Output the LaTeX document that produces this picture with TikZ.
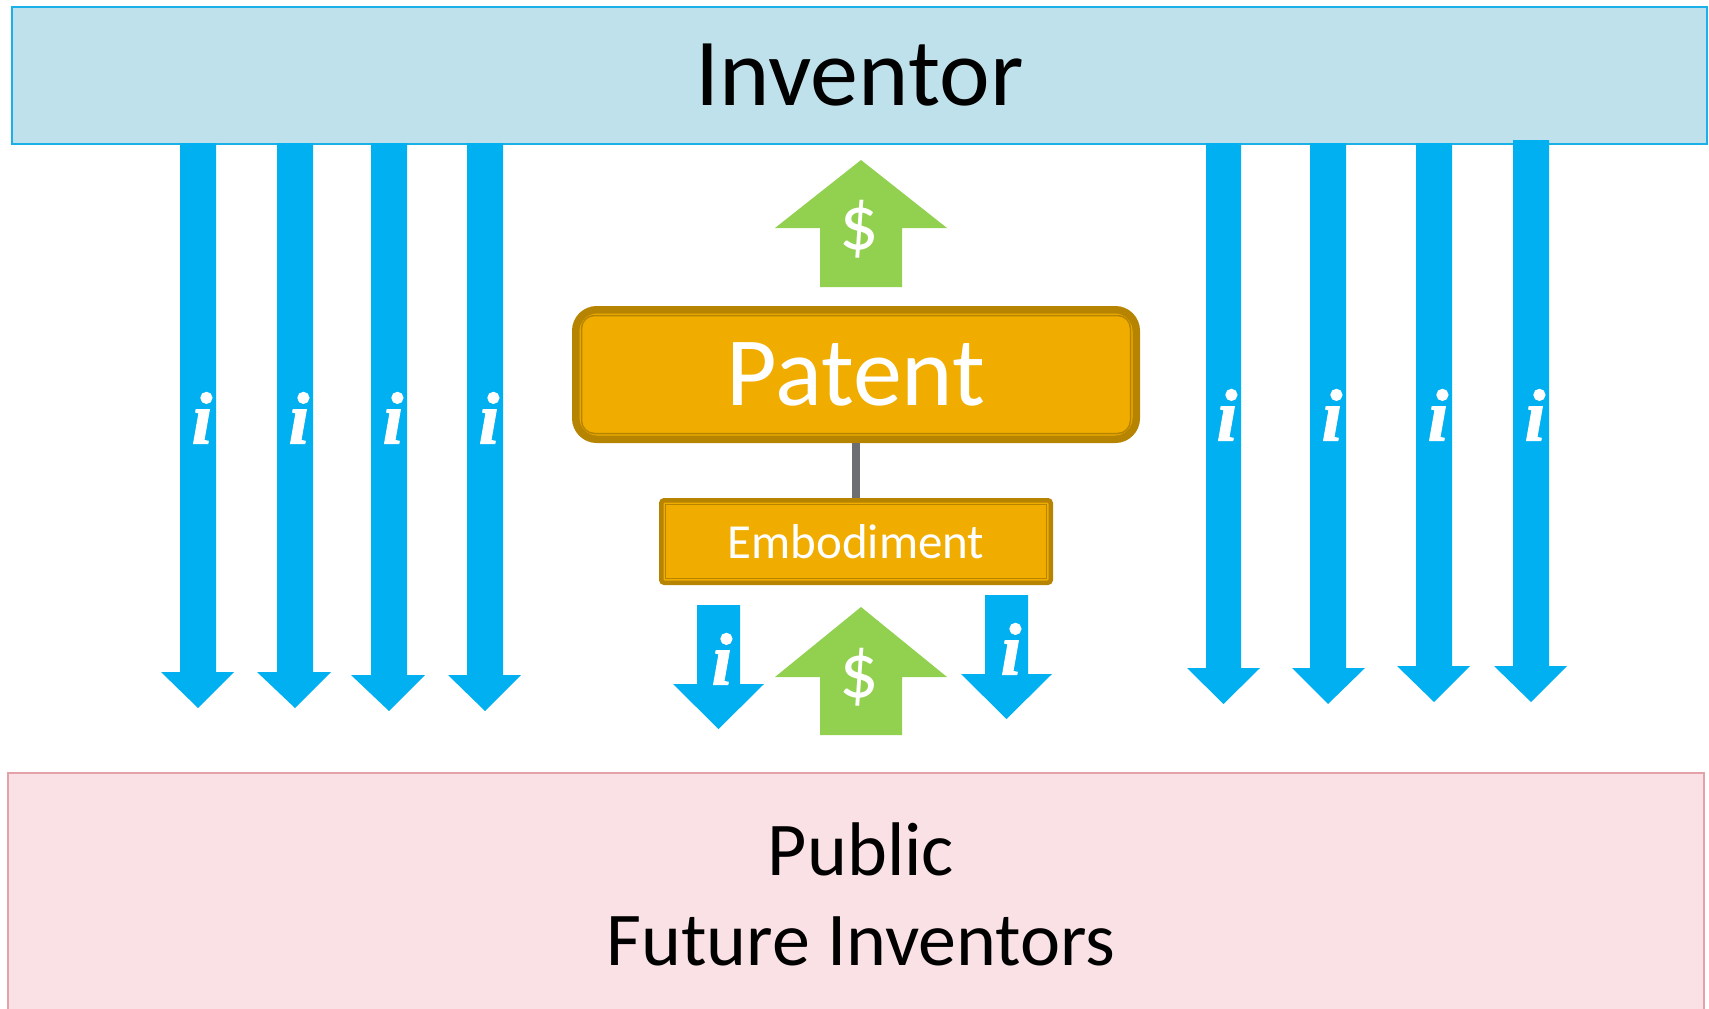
\documentclass[tikz,border=0pt]{standalone}
\usepackage{fontspec}
\setmainfont{Carlito}
\newfontfamily\ifont{Liberation Serif}[BoldItalicFeatures={FakeBold=1.5}]
\definecolor{iblue}{HTML}{00B0F0}
\definecolor{dgreen}{HTML}{92D050}
\definecolor{pgold}{HTML}{F0AD00}
\definecolor{dkgold}{HTML}{B68400}
\definecolor{invfill}{HTML}{BFE1EB}
\definecolor{invdraw}{HTML}{1CB0E8}
\definecolor{pubfill}{HTML}{F9E1E5}
\definecolor{pubdraw}{HTML}{E3A1A8}
\definecolor{connc}{HTML}{6D6E71}
\newcommand{\fsz}[1]{\fontsize{#1}{#1}\selectfont}
% shaft L, shaft R, top, head base, head L, head R, tip
\newcommand{\arrowpoly}[7]{(#1,#3) -- (#2,#3) -- (#2,#4) -- (#6,#4) -- ({(#1+#2)/2},#7) -- (#5,#4) -- (#1,#4) -- cycle}
\begin{document}
\begin{tikzpicture}[x=1pt,y=-1pt,
  ilabel/.style={text=white, inner sep=0pt, font=\ifont\bfseries\itshape\fsz{74}},
  dlabel/.style={text=white, inner sep=0pt, font=\fsz{78}},
  bluearr/.style={fill=iblue},
  greenarr/.style={fill=dgreen},
  bigbox/.style={rectangle, inner sep=0pt, line width=2pt},
  goldbox/.style={rectangle, draw=dkgold, fill=pgold, text=white, inner sep=0pt},
  innerline/.style={draw=dkgold}
]
\useasboundingbox (0,0) rectangle (1709,1009);

% Inventor and Public boxes
\node[bigbox, fill=invfill, draw=invdraw, minimum width=1695pt, minimum height=137pt,
      font=\fsz{96}] (inv) at (859.5,75.5) {Inventor};
\node[bigbox, fill=pubfill, draw=pubdraw, minimum width=1696pt, minimum height=244pt] (pub) at (856,895) {};
\node[font=\fontsize{76}{90}\selectfont, align=center, inner sep=0pt, anchor=base] (pubtxt) at (861,965)
  {Public\\Future Inventors};

% long blue arrows (left)
\fill[bluearr] \arrowpoly{180}{216}{143}{672}{161}{234}{708};
\fill[bluearr] \arrowpoly{277}{313}{143}{672}{257}{331}{708};
\fill[bluearr] \arrowpoly{371}{407}{143}{675}{351}{425}{711};
\fill[bluearr] \arrowpoly{467}{503}{143}{675}{448}{521}{711};
% long blue arrows (right)
\fill[bluearr] \arrowpoly{1206}{1241}{143}{668}{1187}{1260}{704};
\fill[bluearr] \arrowpoly{1310}{1346}{143}{668}{1292}{1365}{704};
\fill[bluearr] \arrowpoly{1416}{1452}{143}{666}{1397}{1470}{702};
\fill[bluearr] \arrowpoly{1513}{1549}{140}{666}{1494}{1567}{702};

\node[ilabel] (i1) at (202,418) {i};
\node[ilabel] (i2) at (299,418) {i};
\node[ilabel] (i3) at (393,418) {i};
\node[ilabel] (i4) at (489,418) {i};
\node[ilabel] (i5) at (1227,415) {i};
\node[ilabel] (i6) at (1332,415) {i};
\node[ilabel] (i7) at (1438,415) {i};
\node[ilabel] (i8) at (1535,415) {i};

% small blue arrows
\fill[bluearr] \arrowpoly{697}{740}{605}{684}{673}{764}{729};
\fill[bluearr] \arrowpoly{985}{1028}{595}{674}{961}{1052}{719};
\node[ilabel] (i9) at (722,659) {i};
\node[ilabel] (i10) at (1011,649) {i};

% green arrows
\fill[greenarr] \arrowpoly{820}{902}{287}{228}{775}{947}{160};
\fill[greenarr] \arrowpoly{820}{902}{735}{677}{775}{947}{607};
\node[dlabel] (d1) at (859,229) {\$};
\node[dlabel] (d2) at (859,677) {\$};

% Patent and Embodiment
\node[goldbox, rounded corners=21pt, line width=7.5pt,
      minimum width=560.5pt, minimum height=129.5pt, font=\fsz{98}] (pat) at (856,374.5) {Patent};
\draw[innerline, line width=1.5pt, rounded corners=13pt]
  ([shift={(9.5,9.5)}]pat.north west) rectangle ([shift={(-9.5,-9.5)}]pat.south east);
\node[goldbox, rounded corners=3pt, line width=4.5pt,
      minimum width=389.5pt, minimum height=82.5pt, font=\fsz{49}] (emb) at (856,541.5) {Embodiment};
\draw[innerline, line width=1.5pt]
  ([shift={(6.5,6.5)}]emb.north west) rectangle ([shift={(-6.5,-6.5)}]emb.south east);
\draw[connc, line width=8pt] (pat.south) -- (emb.north);
\end{tikzpicture}
\end{document}
